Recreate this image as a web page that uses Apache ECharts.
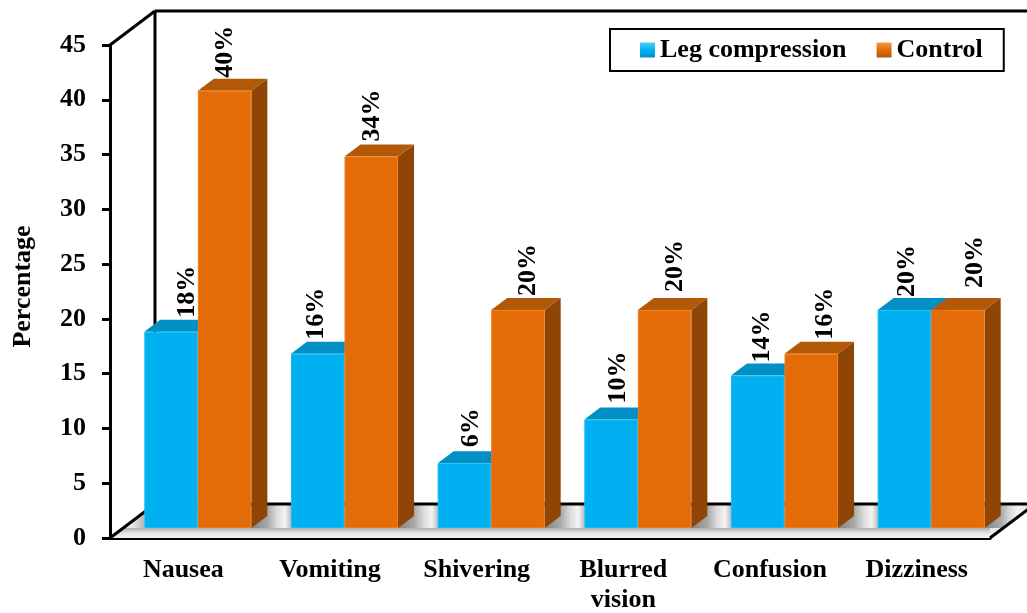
<!DOCTYPE html>
<html>
<head>
<meta charset="utf-8">
<style>
html, body { margin: 0; padding: 0; background: #fff; }
#chart { width: 1027px; height: 613px; }
</style>
<script src="https://cdn.jsdelivr.net/npm/echarts@6/dist/echarts.min.js"></script>
</head>
<body>
<div id="chart"></div>
<script>
const categories = ['Nausea', 'Vomiting', 'Shivering', 'Blurred\nvision', 'Confusion', 'Dizziness']
const legCompression = [18, 16, 6, 10, 14, 20]
const control = [40, 34, 20, 20, 16, 20]
const yTicks = { min: 0, max: 45, interval: 5 }

// hand placed data labels in the original, offset from the bar's front centre / top
const legLabelShift = [[16, 0], [-1, 0], [7, -2], [7, -2], [5, 1], [3, 1]]
const controlLabelShift = [[1, 1], [1, -1], [10, 0], [11, -4], [14, 0], [17, -8]]

const fontFamily = '"Liberation Serif", "Times New Roman", serif'
const wallDepth = [45, -34]   // axis plane -> back wall
const barPlane = [14.5, -10]  // axis plane -> front of bars
const barDepth = [16, -12]
const barShare = 0.365

const blue = { front: '#00b0f0', edge: '#19bdf5', top: '#0090c6', side: '#00739f' }
const orange = { front: '#e36c09', edge: '#f07c18', top: '#b35807', side: '#8e4505' }

function poly(points, fill, z2) {
    return { type: 'polygon', shape: { points }, style: { fill }, z2: z2 || 0 }
}

function gradient(x, y, x2, y2, stops) {
    return new echarts.graphic.LinearGradient(x, y, x2, y2, stops.map(s => ({ offset: s[0], color: s[1] })))
}

function renderFrame(params, api) {
    const g = params.coordSys
    const left = g.x, right = g.x + g.width, top = g.y, bottom = g.y + g.height
    const dx = wallDepth[0], dy = wallDepth[1]
    const black = { stroke: '#000', lineWidth: 3, fill: null }
    const line = (x1, y1, x2, y2) => ({ type: 'line', shape: { x1, y1, x2, y2 }, style: black })
    const floor = [[left, bottom], [left + dx, bottom + dy], [right + dx, bottom + dy], [right, bottom]]

    const band = api.size([1, 0])[0]
    const w = band * barShare
    const frontY = bottom + barPlane[1]
    const floorLight = '#e9e9e9'

    // bar shadows on the floor, dark beside each bar side, fading to the next bar
    const shadows = categories.map((c, i) => {
        const x1 = api.coord([i, 0])[0] + barPlane[0] + w
        const last = i === categories.length - 1
        return {
            type: 'rect',
            shape: { x: x1, y: frontY + dy, width: band - 2 * w, height: -dy },
            style: {
                fill: gradient(0, 0, 1, 0, [
                    [0, '#858585'], [0.4, '#a8a8a8'], [0.65, '#dcdcdc'], [0.85, '#f4f4f4'],
                    [1, last ? floorLight : '#bdbdbd']
                ])
            }
        }
    })
    const firstX = api.coord([0, 0])[0] + barPlane[0] - w
    shadows.push({
        type: 'rect',
        shape: { x: firstX - 12, y: frontY + dy, width: 12, height: -dy },
        style: { fill: gradient(0, 0, 1, 0, [[0, floorLight], [1, '#b5b5b5']]) }
    })
    shadows.push({
        type: 'rect',
        shape: { x: left, y: frontY, width: right - left, height: bottom - frontY },
        style: { fill: gradient(0, 0, 0, 1, [[0, '#b0b0b0'], [0.5, '#e4e4e4'], [1, '#f4f4f4']]) }
    })

    return {
        type: 'group',
        children: [
            poly(floor, floorLight),
            {
                type: 'group',
                clipPath: { type: 'polygon', shape: { points: floor } },
                children: shadows
            },
            line(left + dx, top + dy, left + dx, bottom + dy),
            line(left + dx, top + dy, right + dx + 5, top + dy),
            line(left + dx, bottom + dy, right + dx, bottom + dy),
            line(left, top, left + dx, top + dy),
            line(left, bottom, left + dx, bottom + dy),
            line(right, bottom, right + dx, bottom + dy)
        ]
    }
}

function barRenderer(side, colors, shifts) {
    return function (params, api) {
        const i = api.value(0)
        const v = api.value(1)
        const top = api.coord([i, v])
        const base = api.coord([i, 0])
        const w = api.size([1, 0])[0] * barShare
        const x0 = top[0] + barPlane[0] + (side < 0 ? -w : 0)
        const x1 = x0 + w
        const y0 = top[1] + barPlane[1] + 1
        const y1 = base[1] + barPlane[1]
        const dx = barDepth[0], dy = barDepth[1]
        return {
            type: 'group',
            children: [
                poly([[x1, y0], [x1 + dx, y0 + dy], [x1 + dx, y1 + dy], [x1, y1]], colors.side),
                poly([[x0, y0], [x0 + dx, y0 + dy], [x1 + dx, y0 + dy], [x1, y0]], colors.top),
                {
                    type: 'rect',
                    shape: { x: x0 + 0.5, y: y0 + 0.5, width: w - 1, height: y1 - y0 - 1 },
                    style: { fill: colors.front, stroke: colors.edge, lineWidth: 1 }
                },
                {
                    type: 'text',
                    x: x0 + w / 2 + shifts[i][0],
                    y: y0 + dy - 2 + shifts[i][1],
                    rotation: Math.PI / 2,
                    style: {
                        text: v + '%',
                        font: 'bold 26px ' + fontFamily,
                        fill: '#000',
                        textAlign: 'left',
                        textVerticalAlign: 'middle'
                    }
                }
            ]
        }
    }
}

function toPairs(values) {
    return values.map((v, i) => [i, v])
}

const chart = echarts.init(document.getElementById('chart'))
chart.setOption({
    animation: false,
    backgroundColor: '#fff',
    grid: { left: 110, right: 37, top: 45, bottom: 75, outerBoundsMode: 'none' },
    legend: {
        data: [
            {
                name: 'Leg compression',
                itemStyle: { color: gradient(0, 0, 0, 1, [[0, '#4fcdf7'], [0.5, '#00b0f0'], [1, '#0090c6']]) }
            },
            {
                name: 'Control',
                itemStyle: { color: gradient(0, 0, 0, 1, [[0, '#f39a4a'], [0.5, '#e36c09'], [1, '#b35807']]) }
            }
        ],
        left: 610,
        top: 29,
        padding: [8, 21, 8, 30],
        itemGap: 30,
        itemWidth: 15,
        itemHeight: 15,
        icon: 'rect',
        borderColor: '#000',
        borderWidth: 2,
        selectedMode: false,
        textStyle: { fontFamily, fontWeight: 'bold', fontSize: 26, color: '#000' }
    },
    xAxis: {
        type: 'category',
        data: categories,
        axisLine: { lineStyle: { color: '#000', width: 3 } },
        axisTick: { length: 8, lineStyle: { color: '#000', width: 3 } },
        axisLabel: { interval: 0, margin: 17, color: '#000', fontFamily, fontWeight: 'bold', fontSize: 26, lineHeight: 30 }
    },
    yAxis: {
        type: 'value',
        min: yTicks.min,
        max: yTicks.max,
        interval: yTicks.interval,
        name: 'Percentage',
        nameLocation: 'middle',
        nameGap: 74,
        nameTextStyle: { color: '#000', fontFamily, fontWeight: 'bold', fontSize: 26, padding: [0, 0, 0, 10] },
        splitLine: { show: false },
        axisLine: { show: true, lineStyle: { color: '#000', width: 3 } },
        axisTick: { show: true, length: 8, lineStyle: { color: '#000', width: 3 } },
        axisLabel: { margin: 24, color: '#000', fontFamily, fontWeight: 'bold', fontSize: 26 }
    },
    series: [
        { name: 'frame', type: 'custom', z: 1, silent: true, data: [[0, 0]], renderItem: renderFrame },
        {
            name: 'Leg compression',
            type: 'custom',
            z: 2,
            data: toPairs(legCompression),
            itemStyle: { color: blue.front },
            renderItem: barRenderer(-1, blue, legLabelShift)
        },
        {
            name: 'Control',
            type: 'custom',
            z: 3,
            data: toPairs(control),
            itemStyle: { color: orange.front },
            renderItem: barRenderer(1, orange, controlLabelShift)
        }
    ]
})
</script>
</body>
</html>
